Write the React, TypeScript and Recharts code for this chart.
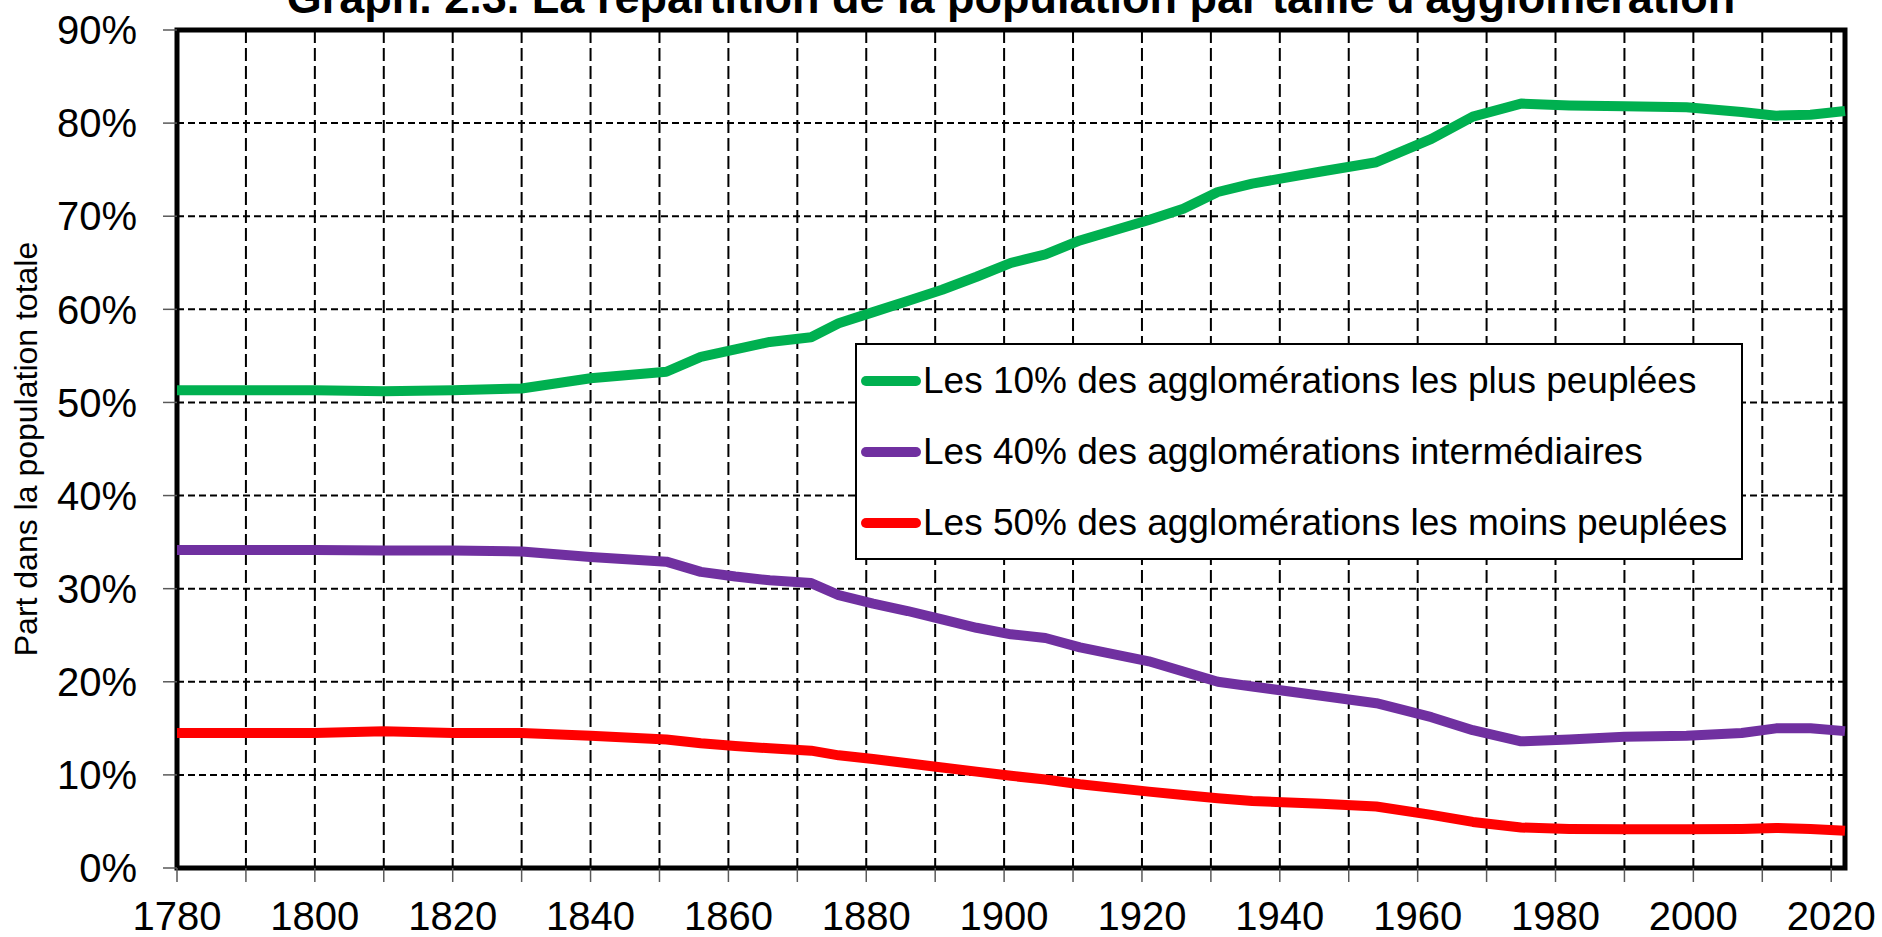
import {
  LineChart,
  Line,
  XAxis,
  YAxis,
  CartesianGrid,
  ReferenceArea,
  Legend,
  Label,
} from "recharts";

// census years and shares (% of total population)
const years = [
  1780, 1790, 1800, 1810, 1820, 1830, 1840, 1851, 1856, 1861, 1866, 1872,
  1876, 1881, 1886, 1891, 1896, 1901, 1906, 1911, 1921, 1926, 1931, 1936,
  1946, 1954, 1962, 1968, 1975, 1982, 1990, 1999, 2007, 2012, 2017, 2022,
];

const top10 = [
  51.3, 51.3, 51.3, 51.2, 51.3, 51.5, 52.6, 53.3, 54.9, 55.7, 56.5, 57.0,
  58.5, 59.7, 60.9, 62.1, 63.5, 65.0, 65.9, 67.4, 69.6, 70.8, 72.6, 73.5,
  74.8, 75.8, 78.3, 80.7, 82.1, 81.9, 81.8, 81.7, 81.2, 80.8, 80.9, 81.3,
];

const mid40 = [
  34.15, 34.15, 34.15, 34.1, 34.1, 34.0, 33.4, 32.9, 31.8, 31.3, 30.9, 30.6,
  29.3, 28.4, 27.6, 26.7, 25.8, 25.1, 24.7, 23.7, 22.2, 21.1, 20.0, 19.5,
  18.5, 17.7, 16.2, 14.8, 13.6, 13.8, 14.1, 14.2, 14.5, 15.0, 15.0, 14.7,
];

const bottom50 = [
  14.5, 14.5, 14.5, 14.7, 14.5, 14.5, 14.2, 13.8, 13.4, 13.1, 12.85, 12.6,
  12.1, 11.7, 11.25, 10.8, 10.35, 9.9, 9.5, 9.0, 8.2, 7.85, 7.5, 7.2, 6.9,
  6.6, 5.7, 4.95, 4.35, 4.2, 4.15, 4.15, 4.2, 4.3, 4.2, 4.0,
];

const xTicks = [
  1780, 1790, 1800, 1810, 1820, 1830, 1840, 1850, 1860, 1870, 1880, 1890,
  1900, 1910, 1920, 1930, 1940, 1950, 1960, 1970, 1980, 1990, 2000, 2010,
  2020,
];
const yTicks = [0, 10, 20, 30, 40, 50, 60, 70, 80, 90];

const title =
  "Graph. 2.3. La répartition de la population par taille d'agglomération";
const yTitle = "Part dans la population totale";
const labels = {
  top10: "Les 10% des agglomérations les plus peuplées",
  mid40: "Les 40% des agglomérations intermédiaires",
  bottom50: "Les 50% des agglomérations les moins peuplées",
};

const data = years.map((year, i) => ({
  year,
  top10: top10[i],
  mid40: mid40[i],
  bottom50: bottom50[i],
}));

const font = '"Liberation Sans", Arial, sans-serif';

function XTick({ x, y, payload }: any) {
  if (payload.value % 20 !== 0) return <g />;
  return (
    <text x={x} y={y} dy="0.71em" textAnchor="middle" fontSize={40} fill="#000" fontFamily={font}>
      {payload.value}
    </text>
  );
}

function YTitle({ viewBox }: any) {
  const cy = viewBox.y + viewBox.height / 2;
  const cx = 37;
  return (
    <text
      x={cx}
      y={cy}
      transform={`rotate(-90 ${cx} ${cy})`}
      textAnchor="middle"
      fontSize={32}
      fill="#000"
      fontFamily={font}
    >
      {yTitle}
    </text>
  );
}

function LegendBox({ payload }: any) {
  return (
    <div
      style={{
        boxSizing: "border-box",
        height: 217,
        border: "2px solid #000",
        background: "#fff",
        display: "flex",
        flexDirection: "column",
        justifyContent: "space-around",
        fontFamily: font,
      }}
    >
      {payload.map((p: any) => (
        <div key={p.value} style={{ display: "flex", alignItems: "center", paddingLeft: 4, whiteSpace: "nowrap" }}>
          <svg width={60} height={12} style={{ flex: "none" }}>
            <line x1={5} y1={6} x2={55} y2={6} stroke={p.color} strokeWidth={10} strokeLinecap="round" />
          </svg>
          <span style={{ fontSize: 37, lineHeight: 1, marginLeft: 2, color: "#000" }}>{p.value}</span>
        </div>
      ))}
    </div>
  );
}

export default function App() {
  return (
    <div style={{ position: "absolute", left: 0, top: 0, width: 1882, height: 937, overflow: "hidden", background: "#fff" }}>
      <div
        style={{
          position: "absolute",
          left: 177,
          width: 1668,
          top: -25,
          textAlign: "center",
          fontFamily: font,
          fontWeight: "bold",
          fontSize: 45,
          lineHeight: "45px",
          whiteSpace: "nowrap",
        }}
      >
        {title}
      </div>
      <LineChart
        width={1882}
        height={937}
        data={data}
        margin={{ top: 30, right: 37, bottom: 0, left: 0 }}
        style={{ fontFamily: font }}
      >
        <CartesianGrid vertical={false} stroke="#000" strokeWidth={2} strokeDasharray="7 4" />
        <CartesianGrid horizontal={false} stroke="#000" strokeWidth={2} strokeDasharray="13 5" />
        <XAxis
          type="number"
          dataKey="year"
          domain={[1780, 2022]}
          ticks={xTicks}
          interval={0}
          height={69}
          axisLine={false}
          tickLine={{ stroke: "#595959", strokeWidth: 1.5 }}
          tickSize={14}
          tickMargin={20}
          tick={<XTick />}
        />
        <YAxis
          type="number"
          domain={[0, 90]}
          ticks={yTicks}
          interval={0}
          width={177}
          axisLine={false}
          tickLine={{ stroke: "#595959", strokeWidth: 1.5 }}
          tickSize={14}
          tickMargin={26}
          tickFormatter={(v) => `${v}%`}
          tick={{ fontSize: 40, fill: "#000", fontFamily: font }}
        >
          <Label content={<YTitle />} />
        </YAxis>
        <Line type="linear" dataKey="top10" name={labels.top10} stroke="#00B050" strokeWidth={10} dot={false} strokeLinejoin="round" isAnimationActive={false} />
        <Line type="linear" dataKey="mid40" name={labels.mid40} stroke="#7030A0" strokeWidth={10} dot={false} strokeLinejoin="round" isAnimationActive={false} />
        <Line type="linear" dataKey="bottom50" name={labels.bottom50} stroke="#FF0000" strokeWidth={10} dot={false} strokeLinejoin="round" isAnimationActive={false} />
        <ReferenceArea x1={1780} x2={2022} y1={0} y2={90} fill="none" stroke="#000" strokeWidth={5} ifOverflow="visible" />
        <Legend
          layout="horizontal"
          verticalAlign="middle"
          align="center"
          content={<LegendBox />}
          wrapperStyle={{ left: 855, top: 343, width: 888, height: 217 }}
        />
      </LineChart>
    </div>
  );
}
